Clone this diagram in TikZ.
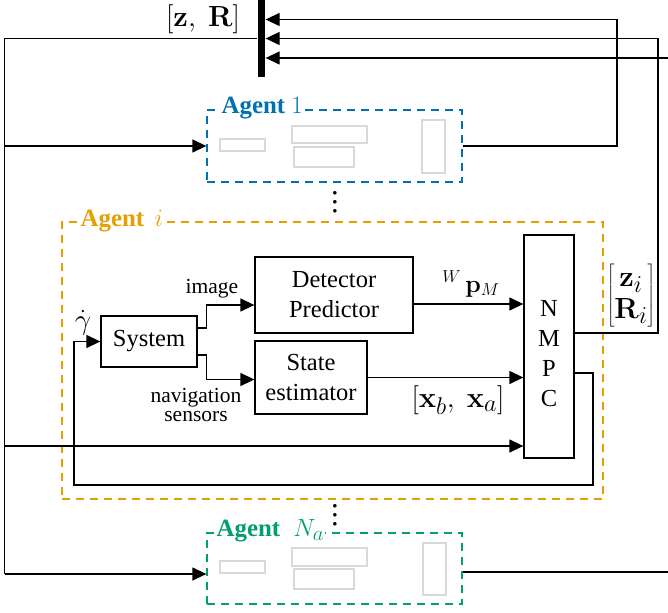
\documentclass[tikz,border=0pt]{standalone}
\usepackage[no-math]{fontspec}
\setmainfont{Liberation Serif}
\usetikzlibrary{arrows.meta,calc}
\definecolor{cblue}{HTML}{0072B2}
\definecolor{corange}{HTML}{E69F00}
\definecolor{cgreen}{HTML}{009E73}
\definecolor{lgray}{HTML}{D9D9D9}
\begin{document}
\begin{tikzpicture}[x=1pt,y=-1pt,line width=1.3pt,
  arr/.style={-{Triangle[length=14pt,width=13pt]}},
  blk/.style={draw,rectangle,inner sep=0pt,align=center,font=\fontsize{24.5}{30}\selectfont},
  agentbox/.style={draw,dash pattern=on 8pt off 6pt,line width=1.3pt,rectangle,inner sep=0pt},
  ghost/.style={draw=lgray,line width=1.5pt},
  alabel/.style={fill=white,inner sep=1pt,font=\fontsize{24.88}{28}\selectfont,anchor=west},
  lbl/.style={font=\fontsize{24.88}{30}\selectfont,inner sep=0pt,scale=1.17},
  dotstyle/.style={font=\fontsize{9}{9}\selectfont,inner sep=0pt,align=center},
  slbl/.style={font=\fontsize{21.5}{19}\selectfont,inner sep=0pt,align=center}]
\useasboundingbox (0,0) rectangle (668,612);

% bus
\node[fill=black,inner sep=0pt,minimum width=7pt,minimum height=77pt] (bus) at (261.5,38.5) {};
\node[lbl] (buslbl) at (203,19) {$\left[\mathbf{z},\ \mathbf{R}\right]$};

% agent 1
\node[agentbox,draw=cblue,minimum width=255pt,minimum height=72pt] (ag1) at (334.5,146) {};
\node[alabel,text=cblue] (ag1l) at (220,108) {\textbf{Agent}\ $1$};
\draw[ghost] (220,139) rectangle (265,151);
\draw[ghost] (292,126) rectangle (367,143);
\draw[ghost] (294,147) rectangle (354,167);
\draw[ghost] (422,120) rectangle (445,173);
\node[dotstyle] (dots1) at (335,202) {$\bullet$\\$\bullet$\\$\bullet$};

% agent Na
\node[agentbox,draw=cgreen,minimum width=255pt,minimum height=71pt] (agN) at (334.5,568.5) {};
\node[alabel,text=cgreen] (agNl) at (215,531) {\textbf{Agent}\ $\;N_a$};
\draw[ghost] (220,561) rectangle (265,573);
\draw[ghost] (292,548) rectangle (367,566);
\draw[ghost] (294,569) rectangle (354,589);
\draw[ghost] (423,543) rectangle (446,595);
\node[dotstyle] (dots2) at (335,515) {$\bullet$\\$\bullet$\\$\bullet$};

% agent i
\node[agentbox,draw=corange,minimum width=541pt,minimum height=277pt] (agi) at (332.5,360.5) {};
\node[alabel,text=corange] (agil) at (79,221) {\textbf{Agent}\ \,$i$};

\node[blk,minimum width=96pt,minimum height=51pt] (sys) at (149,341.5) {System};
\node[blk,minimum width=158pt,minimum height=76pt] (det) at (334,295) {Detector\\Predictor};
\node[blk,minimum width=112pt,minimum height=73pt] (est) at (311,377.5) {State\\estimator};
\node[blk,minimum width=50pt,minimum height=223pt] (nmpc) at (549,346.5)
  {\raisebox{-9pt}[\height][\depth]{\begin{tabular}{@{}c@{}}N\\M\\P\\C\end{tabular}}};

\node[slbl] (imgl) at (212,289) {image};
\node[slbl] (navl) at (196,405) {navigation\\sensors};
\node[lbl] (gaml) at (83,323) {$\dot{\gamma}$};
\node[lbl,scale=0.855] (pml) at (471,284) {${}^{\scriptscriptstyle W}\,\mathbf{p}_{\scriptscriptstyle M}$};
\node[lbl] (xl) at (458,400) {$\left[\mathbf{x}_b,\ \mathbf{x}_a\right]$};
\node[lbl,font=\fontsize{24.88}{27}\selectfont] (zrl) at (631,296) {$\left[\begin{array}{@{}c@{}}\mathbf{z}_i\\ \mathbf{R}_i\end{array}\right]$};

% connectors inside agent i
\coordinate (so1) at ($(sys.east)+(0,-13.5)$);
\coordinate (so2) at ($(sys.east)+(0,13.5)$);
\draw[arr] (so1) -- ++(9,0) |- ($(det.west)+(0,10)$);
\draw[arr] (so2) -- ++(9,0) |- ($(est.west)+(0,2)$);
\coordinate (dO) at ($(det.east)+(0,9)$);
\draw[arr] (dO) -- (dO -| nmpc.west);
\draw[arr] (est.east) -- (est.east -| nmpc.west);
\coordinate (fb1) at ($(nmpc.east)+(0,26.5)$);
\coordinate (fbA) at (593,485);
\coordinate (fbB) at (74,485);
\draw[arr] (fb1) -| (fbA) -- (fbB) |- (sys.west);

% left distribution line
\coordinate (lt) at (4.5,38.5);
\coordinate (lb) at (4.5,574);
\draw (bus.west) -- (lt) -- (lb);
\draw[arr] (lt |- ag1.west) -- (ag1.west);
\coordinate (nin) at ($(nmpc.west)+(0,99.5)$);
\draw[arr] (lt |- nin) -- (nin);
\draw[arr] (lb) -- (lb -| agN.west);

% right return lines
\coordinate (c1) at (617,19.5);
\draw[arr] (ag1.east) -| (c1) -- (c1 -| bus.east);
\coordinate (nout) at ($(nmpc.east)+(0,-13.5)$);
\coordinate (c2) at (658,38.5);
\draw[arr] (nout) -| (c2) -- (bus.east);
\coordinate (c3) at (668,58);
\draw[arr] (c3) -- (c3 -| bus.east);
\coordinate (nNo) at ($(agN.east)+(0,3.5)$);
\coordinate (c4) at (668,572);
\draw (nNo) -- (c4);
\end{tikzpicture}
\end{document}
